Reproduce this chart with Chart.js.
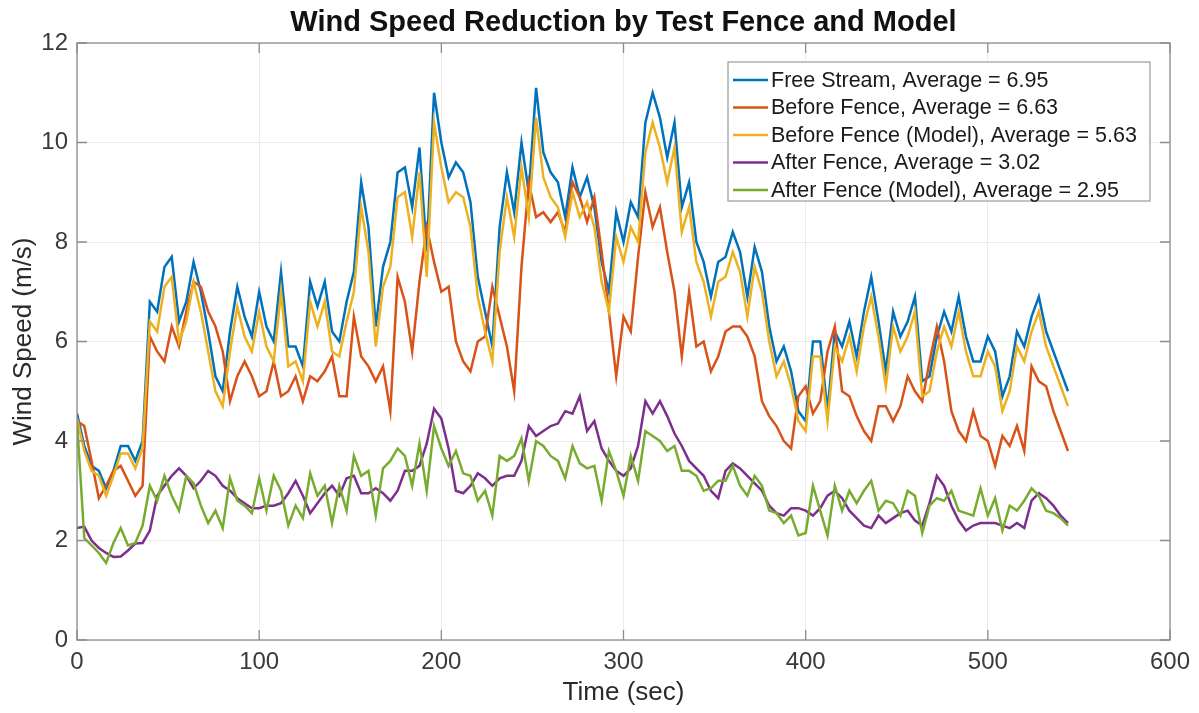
<!DOCTYPE html>
<html lang="en">
<head>
    <meta charset="UTF-8">
    <script src="https://cdn.jsdelivr.net/npm/chart.js"></script>
    <title>Wind Speed Reduction</title>
    <style>
        html, body { margin: 0; padding: 0; background: #fff; }
    </style>
</head>
<body>
    <canvas id="myChart" width="1199" height="713"></canvas>

    <script>
        // time axis, one sample every 4 s
        const times = Array.from({ length: 137 }, (_, i) => i * 4);

        const freeStream = [
            4.55, 3.9, 3.5, 3.4, 3.05, 3.4, 3.9, 3.9, 3.6, 4.0,
            6.8, 6.6, 7.5, 7.7, 6.4, 6.8, 7.6, 7.0, 6.2, 5.3,
            5.0, 6.2, 7.1, 6.5, 6.1, 7.0, 6.3, 6.0, 7.4, 5.9,
            5.9, 5.5, 7.2, 6.7, 7.2, 6.2, 6.0, 6.8, 7.4, 9.2,
            8.3, 6.3, 7.5, 8.0, 9.4, 9.5, 8.7, 9.9, 7.8, 11.0,
            10.0, 9.3, 9.6, 9.4, 8.8, 7.3, 6.6, 5.9, 8.3, 9.4,
            8.6, 10.0, 9.0, 11.1, 9.8, 9.4, 9.2, 8.5, 9.5, 8.9,
            9.3, 8.7, 7.6, 7.0, 8.6, 8.0, 8.8, 8.5, 10.4, 11.0,
            10.5, 9.7, 10.4, 8.7, 9.2, 8.0, 7.6, 6.9, 7.6, 7.7,
            8.2, 7.8, 6.9, 7.9, 7.4, 6.3, 5.6, 5.9, 5.4, 4.6,
            4.4, 6.0, 6.0, 4.6, 6.2, 5.9, 6.4, 5.7, 6.6, 7.3,
            6.4, 5.4, 6.6, 6.1, 6.4, 6.9, 5.2, 5.3, 6.1, 6.6,
            6.2, 6.9, 6.1, 5.6, 5.6, 6.1, 5.8, 4.9, 5.3, 6.2,
            5.9, 6.5, 6.9, 6.2, 5.8, 5.4, 5.0
        ];

        const beforeFence = [
            4.4, 4.3, 3.6, 2.85, 3.1, 3.4, 3.5, 3.2, 2.9, 3.1,
            6.1, 5.8, 5.6, 6.3, 5.9, 6.6, 7.2, 7.1, 6.6, 6.3,
            5.8, 4.8, 5.3, 5.6, 5.3, 4.9, 5.0, 5.6, 4.9, 5.0,
            5.3, 4.8, 5.3, 5.2, 5.4, 5.7, 4.9, 4.9, 6.5, 5.7,
            5.5, 5.2, 5.5, 4.6, 7.3, 6.8, 5.8, 7.2, 8.3, 7.6,
            7.0, 7.1, 6.0, 5.6, 5.4, 6.0, 6.1, 7.1, 6.5, 5.9,
            5.0, 7.5, 9.2, 8.5, 8.6, 8.4, 8.6, 8.2, 9.2, 8.9,
            8.4, 8.9, 7.8, 6.6, 5.3, 6.5, 6.2, 7.7, 9.0, 8.3,
            8.7, 7.8, 7.0, 5.7, 7.0, 5.9, 6.0, 5.4, 5.7, 6.2,
            6.3, 6.3, 6.1, 5.7, 4.8, 4.5, 4.3, 4.0, 3.85, 4.9,
            5.1, 4.55, 4.8, 5.8, 6.3, 5.0, 4.9, 4.5, 4.2, 4.0,
            4.7, 4.7, 4.4, 4.7, 5.3, 5.0, 4.8, 5.6, 6.3, 5.6,
            4.6, 4.2, 4.0, 4.6, 4.1, 4.0, 3.5, 4.1, 3.9, 4.3,
            3.8, 5.5, 5.2, 5.1, 4.6, 4.2, 3.8
        ];

        const beforeFenceModel = [
            4.45, 3.8, 3.4, 3.3, 2.9, 3.3, 3.75, 3.75, 3.45, 3.85,
            6.4, 6.2, 7.1, 7.3, 6.0, 6.4, 7.2, 6.6, 5.8, 5.0,
            4.7, 5.8, 6.7, 6.1, 5.8, 6.6, 5.9, 5.6, 7.0, 5.5,
            5.6, 5.2, 6.8, 6.3, 6.8, 5.8, 5.7, 6.4, 7.0, 8.7,
            7.8, 5.9, 7.1, 7.5, 8.9, 9.0, 8.1, 9.4, 7.3, 10.4,
            9.5, 8.8, 9.0, 8.9, 8.3, 6.9, 6.2, 5.6, 7.8, 8.9,
            8.1, 9.5, 8.5, 10.5, 9.3, 8.9, 8.7, 8.1, 9.0, 8.5,
            8.8, 8.3, 7.2, 6.6, 8.1, 7.6, 8.3, 8.0, 9.8, 10.4,
            9.9, 9.2, 9.9, 8.2, 8.7, 7.6, 7.2, 6.5, 7.2, 7.3,
            7.8, 7.4, 6.5, 7.5, 7.0, 6.0, 5.3, 5.6, 5.1, 4.4,
            4.2, 5.7, 5.7, 4.4, 5.9, 5.6, 6.1, 5.4, 6.3, 6.9,
            6.1, 5.1, 6.3, 5.8, 6.1, 6.6, 4.9, 5.0, 5.8, 6.3,
            5.9, 6.6, 5.8, 5.3, 5.3, 5.8, 5.5, 4.6, 5.0, 5.9,
            5.6, 6.2, 6.6, 5.9, 5.5, 5.1, 4.7
        ];

        const afterFence = [
            2.25, 2.28, 2.0, 1.85, 1.75, 1.67, 1.68, 1.8, 1.94, 1.95,
            2.2, 2.9, 3.1, 3.3, 3.45, 3.3, 3.05, 3.2, 3.4, 3.3,
            3.1, 3.0, 2.85, 2.75, 2.65, 2.65, 2.7, 2.7, 2.75, 2.95,
            3.2, 2.9, 2.55, 2.75, 2.95, 3.1, 2.9, 3.25, 3.3, 2.95,
            2.95, 3.05, 2.95, 2.8, 3.0, 3.4, 3.4, 3.5, 3.95, 4.65,
            4.45, 3.85, 3.0, 2.95, 3.1, 3.35, 3.25, 3.1, 3.25, 3.3,
            3.3, 3.6, 4.3, 4.1, 4.2, 4.3, 4.35, 4.6, 4.55, 4.9,
            4.2, 4.4, 3.85, 3.6, 3.4, 3.3, 3.45, 3.9, 4.8, 4.55,
            4.8, 4.5, 4.15, 3.9, 3.6, 3.45, 3.3, 3.0, 2.85, 3.4,
            3.55, 3.45, 3.3, 3.15, 3.0, 2.7, 2.55, 2.5, 2.65, 2.65,
            2.6, 2.5, 2.65, 2.9, 3.0, 2.85, 2.6, 2.45, 2.3, 2.25,
            2.5, 2.35, 2.45, 2.55, 2.6, 2.4, 2.3, 2.75, 3.3, 3.1,
            2.7, 2.4, 2.2, 2.3, 2.35, 2.35, 2.35, 2.3, 2.25, 2.35,
            2.25, 2.8, 2.95, 2.85, 2.7, 2.5, 2.35
        ];

        const afterFenceModel = [
            4.4, 2.05, 1.9, 1.75, 1.55, 1.95, 2.25, 1.9, 1.95, 2.3,
            3.1, 2.8, 3.3, 2.9, 2.6, 3.3, 3.15, 2.7, 2.35, 2.6,
            2.25, 3.25, 2.8, 2.7, 2.55, 3.25, 2.6, 3.3, 3.0, 2.3,
            2.7, 2.45, 3.35, 2.9, 3.1, 2.35, 3.1, 2.6, 3.7, 3.3,
            3.4, 2.5, 3.45, 3.6, 3.85, 3.7, 3.1, 3.95, 3.0, 4.3,
            3.85, 3.5, 3.8, 3.35, 3.3, 2.8, 3.0, 2.5, 3.7, 3.6,
            3.7, 4.05, 3.2, 4.0, 3.9, 3.7, 3.6, 3.25, 3.9, 3.55,
            3.45, 3.5, 2.8, 3.8, 3.4, 2.9, 3.7, 3.2, 4.2, 4.1,
            4.0, 3.8, 3.9, 3.4, 3.4, 3.3, 3.0, 3.05, 3.2, 3.2,
            3.5, 3.1, 2.9, 3.3, 3.1, 2.6, 2.55, 2.35, 2.5, 2.1,
            2.15, 3.1, 2.6, 2.1, 3.1, 2.6, 3.0, 2.75, 3.0, 3.2,
            2.6, 2.8, 2.75, 2.5, 3.0, 2.9, 2.15, 2.7, 2.85, 2.8,
            3.0, 2.6, 2.55, 2.5, 3.05, 2.5, 2.85, 2.2, 2.7, 2.6,
            2.8, 3.05, 2.9, 2.6, 2.55, 2.45, 2.3
        ];

        const chartTitle = "Wind Speed Reduction by Test Fence and Model";
        const seriesLabels = [
            "Free Stream, Average = 6.95",
            "Before Fence, Average = 6.63",
            "Before Fence (Model), Average = 5.63",
            "After Fence, Average = 3.02",
            "After Fence (Model), Average = 2.95"
        ];
        const seriesColors = ["#0072BD", "#D95319", "#EDB120", "#7E2F8E", "#77AC30"];
        const xTicks = [0, 100, 200, 300, 400, 500, 600];
        const yTicks = [0, 2, 4, 6, 8, 10, 12];

        const allSeries = [freeStream, beforeFence, beforeFenceModel, afterFence, afterFenceModel];

        const datasets = allSeries.map(function(values, i) {
            return {
                label: seriesLabels[i],
                data: values.map(function(v, k) { return { x: times[k], y: v }; }),
                borderColor: seriesColors[i],
                backgroundColor: seriesColors[i],
                borderWidth: 2.5,
                pointRadius: 0,
                tension: 0,
                order: allSeries.length - i   // later series drawn on top, like matlab
            };
        });

        const FONT = "'Liberation Sans', Arial, Helvetica, sans-serif";

        // title over the plot centre, box, inward ticks and the legend box
        const matlabBox = {
            id: 'matlabBox',
            afterDatasetsDraw(chart) {
                const { ctx, chartArea: a, scales } = chart;
                ctx.save();

                ctx.fillStyle = '#111';
                ctx.font = "bold 29px " + FONT;
                ctx.textAlign = 'center';
                ctx.textBaseline = 'middle';
                ctx.fillText(chartTitle, (a.left + a.right) / 2, 23);

                ctx.strokeStyle = '#8c8c8c';
                ctx.lineWidth = 1.3;
                ctx.strokeRect(a.left, a.top, a.right - a.left, a.bottom - a.top);

                ctx.beginPath();
                xTicks.forEach(function(v) {
                    const px = scales.x.getPixelForValue(v);
                    ctx.moveTo(px, a.bottom); ctx.lineTo(px, a.bottom - 10);
                    ctx.moveTo(px, a.top); ctx.lineTo(px, a.top + 10);
                });
                yTicks.forEach(function(v) {
                    const py = scales.y.getPixelForValue(v);
                    ctx.moveTo(a.left, py); ctx.lineTo(a.left + 10, py);
                    ctx.moveTo(a.right, py); ctx.lineTo(a.right - 10, py);
                });
                ctx.stroke();

                // legend
                const lx = 728, ly = 62, lw = 422, lh = 139;
                ctx.fillStyle = '#ffffff';
                ctx.fillRect(lx, ly, lw, lh);
                ctx.strokeStyle = '#9a9a9a';
                ctx.lineWidth = 1.2;
                ctx.strokeRect(lx, ly, lw, lh);
                ctx.font = "21.5px " + FONT;
                ctx.textBaseline = 'middle';
                ctx.textAlign = 'left';
                seriesLabels.forEach(function(txt, i) {
                    const cy = ly + 18 + i * 27.5;
                    ctx.strokeStyle = seriesColors[i];
                    ctx.lineWidth = 2.5;
                    ctx.beginPath();
                    ctx.moveTo(lx + 5, cy);
                    ctx.lineTo(lx + 40, cy);
                    ctx.stroke();
                    ctx.fillStyle = '#1a1a1a';
                    ctx.fillText(txt, lx + 43, cy + 1);
                });
                ctx.restore();
            }
        };

        new Chart("myChart", {
            type: 'line',
            data: { datasets: datasets },
            options: {
                responsive: false,
                animation: false,
                devicePixelRatio: 1,
                layout: { padding: { left: 0, right: 29, top: 43, bottom: 0 } },
                plugins: {
                    legend: { display: false },
                    tooltip: { enabled: false },
                    title: { display: false }
                },
                scales: {
                    x: {
                        type: 'linear',
                        min: 0,
                        max: 600,
                        afterBuildTicks: function(s) { s.ticks = xTicks.map(function(v) { return { value: v }; }); },
                        afterFit: function(s) { s.height = 73; },
                        grid: { color: '#ebebeb', lineWidth: 1, drawTicks: false },
                        border: { display: false },
                        ticks: { padding: 8, color: '#3a3a3a', font: { family: FONT, size: 24 }, maxRotation: 0 },
                        title: {
                            display: true,
                            text: 'Time (sec)',
                            color: '#2a2a2a',
                            font: { family: FONT, size: 26 },
                            padding: { top: 0, bottom: 5 }
                        }
                    },
                    y: {
                        min: 0,
                        max: 12,
                        afterBuildTicks: function(s) { s.ticks = yTicks.map(function(v) { return { value: v }; }); },
                        afterFit: function(s) { s.width = 77; },
                        grid: { color: '#ebebeb', lineWidth: 1, drawTicks: false },
                        border: { display: false },
                        ticks: { padding: 9, color: '#3a3a3a', font: { family: FONT, size: 24 } },
                        title: {
                            display: true,
                            text: 'Wind Speed (m/s)',
                            color: '#2a2a2a',
                            font: { family: FONT, size: 26 },
                            padding: { top: 8, bottom: 0 }
                        }
                    }
                }
            },
            plugins: [matlabBox]
        });
    </script>
</body>
</html>
